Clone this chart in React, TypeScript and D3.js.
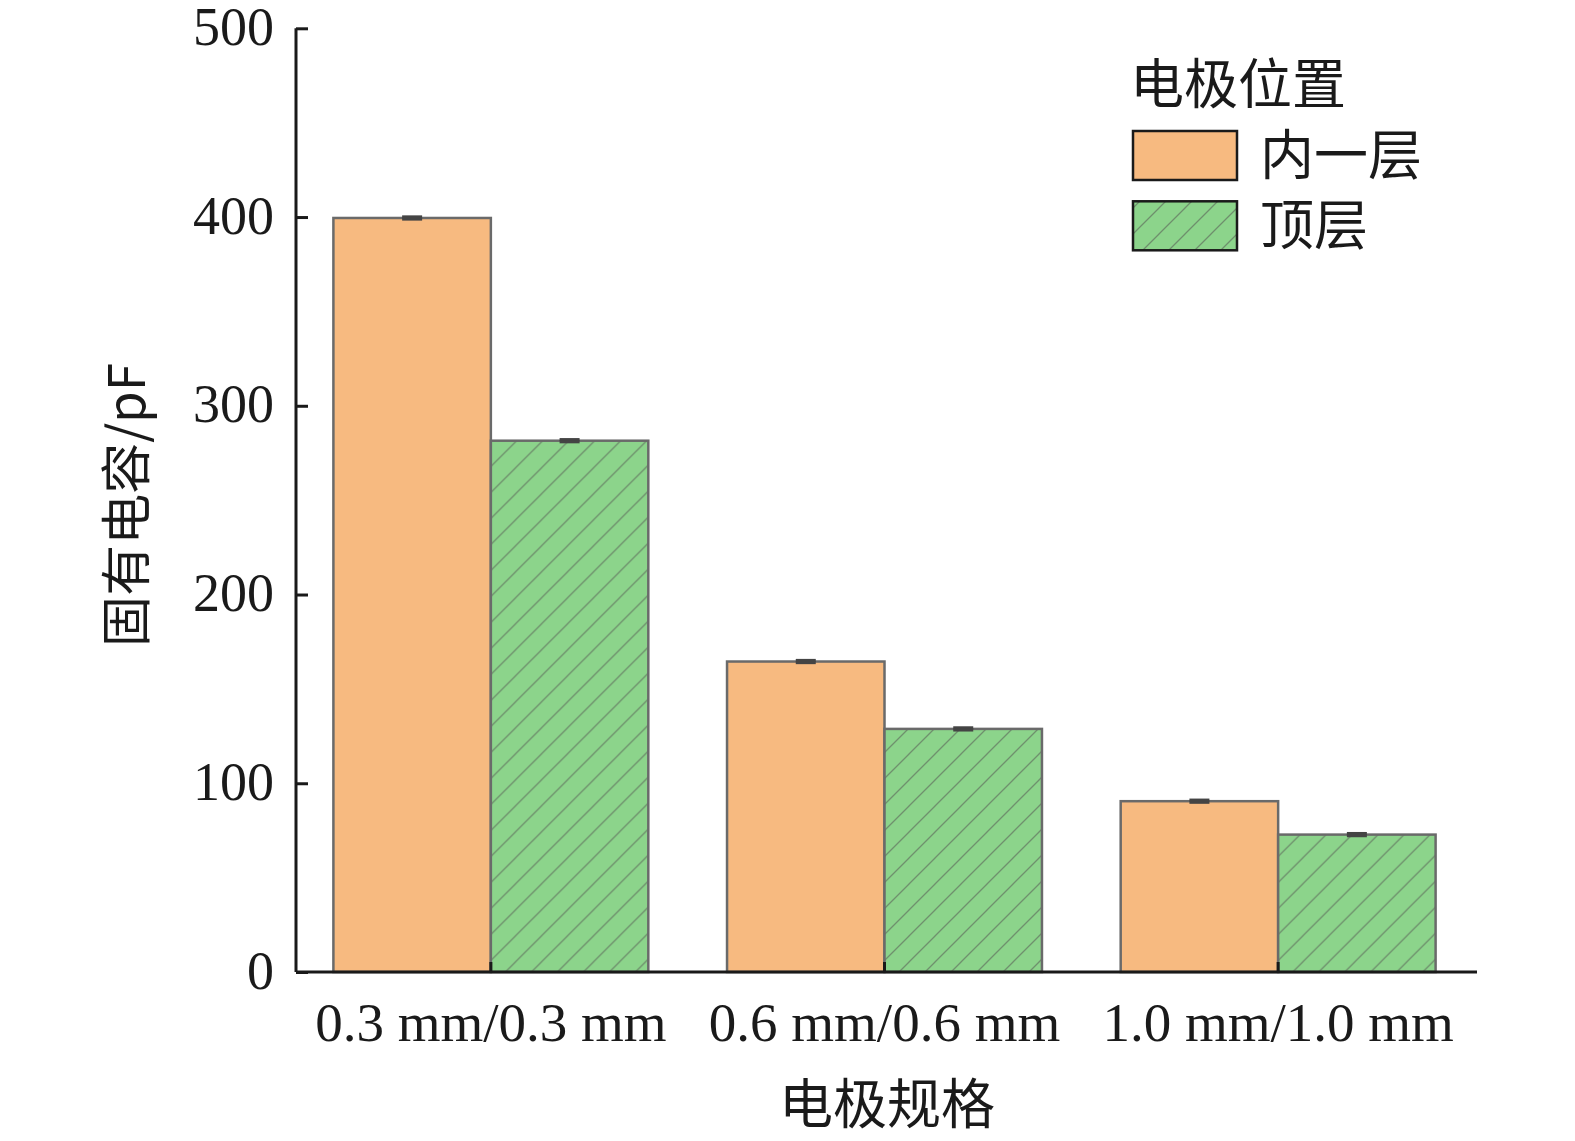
import { useRef, useEffect } from "react";
import * as d3 from "d3";

const categories = ["0.3 mm/0.3 mm", "0.6 mm/0.6 mm", "1.0 mm/1.0 mm"];
const seriesNames = ["内一层", "顶层"];
const innerValues = [399.5, 164.5, 90.5];
const topValues = [281.5, 128.8, 72.8];
const innerErrors = [0.6, 0.6, 0.6];
const topErrors = [0.6, 0.6, 0.6];
const yTicks = [0, 100, 200, 300, 400, 500];

const W = 1575;
const H = 1141;
const serif = "'Liberation Serif', 'Times New Roman', 'Noto Sans CJK SC', serif";
const cjk = "'Noto Sans CJK SC', 'Liberation Serif', serif";

export default function App() {
  const svgRef = useRef(null);

  function renderChart() {
    document.body.style.margin = "0";
    document.body.style.overflow = "hidden";
    const svg = d3.select(svgRef.current);
    svg.selectAll("*").remove();
    svg.attr("width", W).attr("height", H).attr("viewBox", `0 0 ${W} ${H}`);

    const left = 296, right = 1477, top = 28.3, bottom = 972;

    const x = d3.scaleBand().domain(categories).range([left, 1473]).paddingInner(0.2).paddingOuter(0.095);
    const xs = d3.scaleBand().domain(seriesNames).range([0, x.bandwidth()]);
    const y = d3.scaleLinear().domain([0, 500]).range([bottom, top]);

    const defs = svg.append("defs");
    const pat = defs
      .append("pattern")
      .attr("id", "hatch")
      .attr("patternUnits", "userSpaceOnUse")
      .attr("width", 26)
      .attr("height", 26);
    pat.append("rect").attr("width", 26).attr("height", 26).attr("fill", "#8cd48b");
    pat
      .append("path")
      .attr("d", "M0,26 L26,0 M-6.5,6.5 L6.5,-6.5 M19.5,32.5 L32.5,19.5")
      .attr("stroke", "#6e8f6c")
      .attr("stroke-width", 1.3);

    const fills = ["#f7ba80", "url(#hatch)"];
    const data = categories.map((c, i) => [
      { cat: c, s: seriesNames[0], v: innerValues[i], e: innerErrors[i] },
      { cat: c, s: seriesNames[1], v: topValues[i], e: topErrors[i] },
    ]);

    const groups = svg
      .selectAll("g.grp")
      .data(data)
      .join("g")
      .attr("class", "grp")
      .attr("transform", (d) => `translate(${x(d[0].cat)},0)`);

    groups
      .selectAll("rect")
      .data((d) => d)
      .join("rect")
      .attr("x", (d) => xs(d.s)!)
      .attr("y", (d) => y(d.v))
      .attr("width", xs.bandwidth())
      .attr("height", (d) => bottom - y(d.v))
      .attr("fill", (d, i) => fills[i])
      .attr("stroke", "#6a6a6a")
      .attr("stroke-width", 2.5);

    // error bars
    groups
      .selectAll("g.err")
      .data((d) => d)
      .join("g")
      .attr("class", "err")
      .each(function (d) {
        const g = d3.select(this);
        const cx = xs(d.s)! + xs.bandwidth() / 2;
        g.append("line")
          .attr("x1", cx).attr("x2", cx)
          .attr("y1", y(d.v + d.e)).attr("y2", y(d.v - d.e))
          .attr("stroke", "#444").attr("stroke-width", 2);
        [d.v + d.e, d.v - d.e].forEach((v) => {
          g.append("line")
            .attr("x1", cx - 10).attr("x2", cx + 10)
            .attr("y1", y(v)).attr("y2", y(v))
            .attr("stroke", "#444").attr("stroke-width", 3);
        });
      });

    // y axis
    const yAxis = svg
      .append("g")
      .attr("transform", `translate(${left},0)`)
      .call(d3.axisLeft(y).tickValues(yTicks).tickSize(-12).tickPadding(22).tickFormat(d3.format("d")));
    yAxis.select(".domain").attr("stroke", "#1a1a1a").attr("stroke-width", 3).attr("d", `M0,${top}V${bottom}`);
    yAxis.selectAll(".tick line").attr("stroke", "#1a1a1a").attr("stroke-width", 3);
    yAxis.selectAll(".tick text").attr("font-family", serif).attr("font-size", 54).attr("fill", "#1a1a1a").attr("dy", "0.3em");

    // x axis
    const xAxis = svg
      .append("g")
      .attr("transform", `translate(0,${bottom})`)
      .call(d3.axisBottom(x).tickSize(-10).tickPadding(28));
    xAxis.select(".domain").attr("stroke", "#1a1a1a").attr("stroke-width", 3).attr("d", `M${left},0H${right}`);
    xAxis.selectAll(".tick line").attr("stroke", "#1a1a1a").attr("stroke-width", 3);
    xAxis.selectAll(".tick text").attr("font-family", serif).attr("font-size", 55).attr("fill", "#1a1a1a").attr("dy", "0.75em");

    // axis titles
    svg.append("text")
      .attr("x", 887)
      .attr("y", 1124)
      .attr("text-anchor", "middle")
      .attr("font-family", cjk)
      .attr("font-size", 54)
      .attr("fill", "#1a1a1a")
      .text("电极规格");

    svg.append("text")
      .attr("transform", `translate(145,505) rotate(-90)`)
      .attr("text-anchor", "middle")
      .attr("font-family", cjk)
      .attr("font-size", 51)
      .attr("fill", "#1a1a1a")
      .text("固有电容/pF");

    // legend
    const lg = svg.append("g").attr("transform", "translate(1133,0)");
    lg.append("text")
      .attr("x", -3).attr("y", 104)
      .attr("font-family", cjk).attr("font-size", 54).attr("fill", "#1a1a1a")
      .text("电极位置");
    seriesNames.forEach((name, i) => {
      const yy = 131 + i * 70.3;
      lg.append("rect")
        .attr("x", 0).attr("y", yy)
        .attr("width", 104).attr("height", 49)
        .attr("fill", fills[i])
        .attr("stroke", "#1a1a1a").attr("stroke-width", 2.5);
      lg.append("text")
        .attr("x", 127).attr("y", yy + 44)
        .attr("font-family", cjk).attr("font-size", 54).attr("fill", "#1a1a1a")
        .text(name);
    });
  }

  useEffect(() => {
    renderChart();
  }, []);

  return (
    <div>
      <svg ref={svgRef} style={{ position: "absolute", left: 0, top: 0, display: "block", background: "#fff" }} />
    </div>
  );
}
